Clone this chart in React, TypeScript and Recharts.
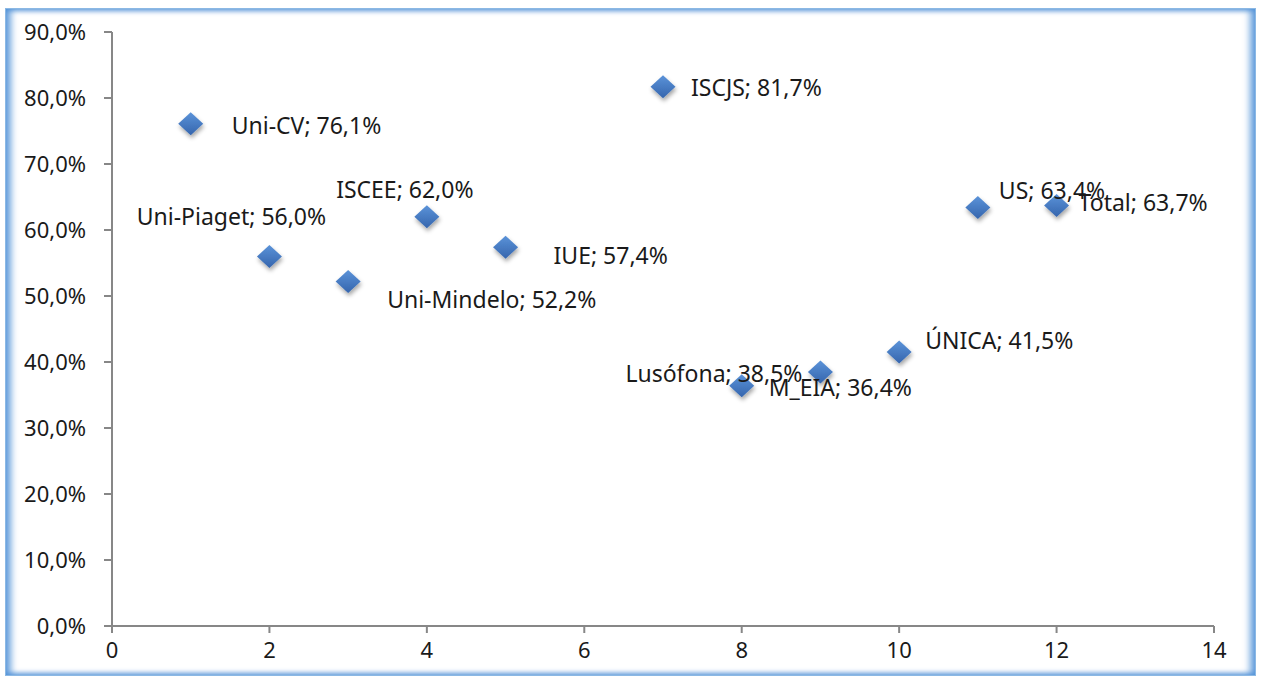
import React from "react";
import { ScatterChart, Scatter, XAxis, YAxis } from "recharts";

// x position on the horizontal axis, institution, success rate (%)
const positions = [1, 2, 3, 4, 5, 7, 8, 9, 10, 11, 12];
const institutions = [
  "Uni-CV",
  "Uni-Piaget",
  "Uni-Mindelo",
  "ISCEE",
  "IUE",
  "ISCJS",
  "M_EIA",
  "Lusófona",
  "ÚNICA",
  "US",
  "Total",
];
const rates = [76.1, 56.0, 52.2, 62.0, 57.4, 81.7, 36.4, 38.5, 41.5, 63.4, 63.7];

const xTicks = [0, 2, 4, 6, 8, 10, 12, 14];
const yTicks = [0, 10, 20, 30, 40, 50, 60, 70, 80, 90];

// where each data label sits relative to its marker
const LABEL_PLACEMENT: Record<string, { dx: number; dy: number; anchor: "start" | "middle" | "end" }> = {
  "Uni-CV": { dx: 41, dy: 1, anchor: "start" },
  "Uni-Piaget": { dx: -38, dy: -40, anchor: "middle" },
  "Uni-Mindelo": { dx: 39, dy: 18, anchor: "start" },
  ISCEE: { dx: -22, dy: -28, anchor: "middle" },
  IUE: { dx: 48, dy: 8, anchor: "start" },
  ISCJS: { dx: 28, dy: 0, anchor: "start" },
  M_EIA: { dx: 27, dy: 1, anchor: "start" },
  "Lusófona": { dx: -18, dy: 1, anchor: "end" },
  "ÚNICA": { dx: 26, dy: -12, anchor: "start" },
  US: { dx: 21, dy: -18, anchor: "start" },
  Total: { dx: 22, dy: -4, anchor: "start" },
};

const FONT = "'Noto Sans', sans-serif";
const AXIS = "#878787";

const data = positions.map((x, i) => ({ x, y: rates[i], name: institutions[i] }));

const fmtPct = (v: number) => v.toFixed(1).replace(".", ",") + "%";

function Diamond(props: any) {
  const { cx, cy } = props;
  if (cx == null || cy == null) return null;
  const w = 12.5;
  const h = 11.5;
  return (
    <path
      d={`M${cx},${cy - h} L${cx + w},${cy} L${cx},${cy + h} L${cx - w},${cy} Z`}
      fill="url(#diamondFill)"
      filter="url(#diamondShadow)"
    />
  );
}

function PointLabel(props: any) {
  const { cx, cy } = props;
  const p = props.payload ?? props;
  if (cx == null || cy == null || !p) return null;
  const place = LABEL_PLACEMENT[p.name] ?? { dx: 20, dy: 0, anchor: "start" };
  return (
    <text
      x={cx + place.dx}
      y={cy + place.dy}
      textAnchor={place.anchor}
      dominantBaseline="central"
      fontFamily={FONT}
      fontSize={23}
      fill="#1a1a1a"
    >
      {`${p.name}; ${fmtPct(p.y)}`}
    </text>
  );
}

export default function App() {
  return (
    <div style={{ position: "absolute", left: 0, top: 0, width: 1261, height: 680, background: "#fff" }}>
      <div
        style={{
          position: "absolute",
          left: 5,
          top: 8,
          width: 1251,
          height: 668,
          boxSizing: "border-box",
          border: "1px solid #8bb8e4",
          boxShadow:
            "inset 8px 0 7px -3px rgba(79,145,215,0.85), inset -8px 0 7px -3px rgba(79,145,215,0.85), inset 0 4px 5px -2px rgba(79,145,215,0.8), inset 0 -4px 5px -2px rgba(79,145,215,0.8)",
        }}
      />
      <ScatterChart
        width={1261}
        height={680}
        margin={{ top: 32, right: 47, left: 0, bottom: 14 }}
        style={{ position: "absolute", left: 0, top: 0 }}
      >
        <defs>
          <linearGradient id="diamondFill" x1="0" y1="0" x2="0" y2="1">
            <stop offset="0%" stopColor="#5b93d9" />
            <stop offset="100%" stopColor="#3565ad" />
          </linearGradient>
          <filter id="diamondShadow" x="-50%" y="-50%" width="200%" height="200%">
            <feDropShadow dx="1" dy="3" stdDeviation="2" floodColor="#000" floodOpacity="0.35" />
          </filter>
        </defs>
        <XAxis
          type="number"
          dataKey="x"
          domain={[0, 14]}
          ticks={xTicks}
          height={40}
          stroke={AXIS}
          strokeWidth={2}
          tickSize={7}
          tickMargin={9}
          tick={{ fill: "#1a1a1a", fontSize: 22, fontFamily: FONT }}
          tickLine={{ stroke: AXIS, strokeWidth: 2 }}
          allowDecimals={false}
        />
        <YAxis
          type="number"
          dataKey="y"
          domain={[0, 90]}
          ticks={yTicks}
          width={112}
          stroke={AXIS}
          strokeWidth={2}
          tickSize={8}
          tickMargin={18}
          tickFormatter={fmtPct}
          tick={{ fill: "#1a1a1a", fontSize: 22, fontFamily: FONT }}
          tickLine={{ stroke: AXIS, strokeWidth: 2 }}
        />
        <Scatter data={data} shape={Diamond} isAnimationActive={false} />
        <Scatter data={data} shape={PointLabel} isAnimationActive={false} />
      </ScatterChart>
    </div>
  );
}
